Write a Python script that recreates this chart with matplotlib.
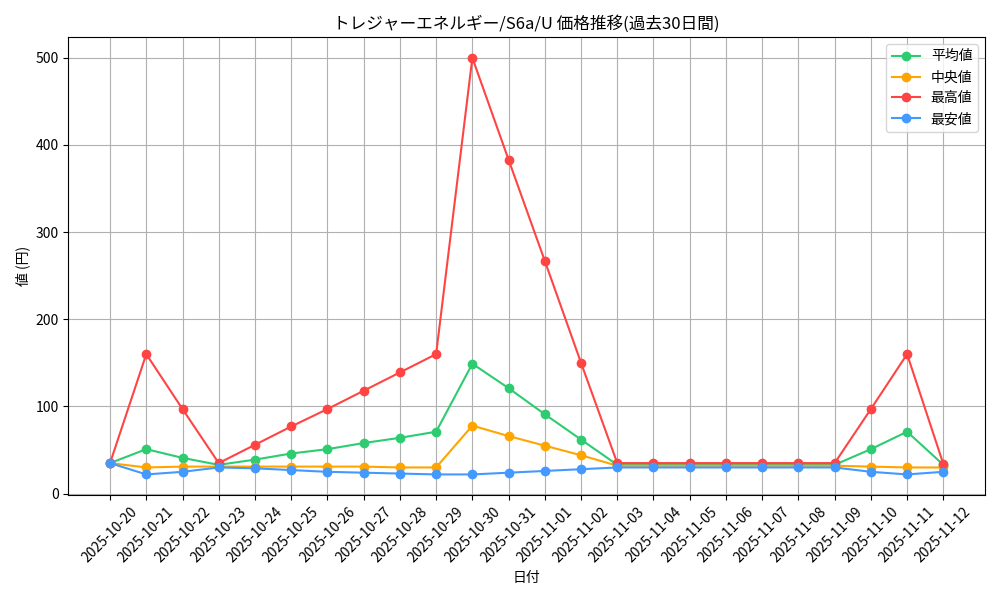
import matplotlib.pyplot as plt
import numpy as np

plt.rcParams['font.family'] = ['Noto Sans CJK JP', 'DejaVu Sans']

dates = ['2025-10-20', '2025-10-21', '2025-10-22', '2025-10-23', '2025-10-24',
         '2025-10-25', '2025-10-26', '2025-10-27', '2025-10-28', '2025-10-29',
         '2025-10-30', '2025-10-31', '2025-11-01', '2025-11-02', '2025-11-03',
         '2025-11-04', '2025-11-05', '2025-11-06', '2025-11-07', '2025-11-08',
         '2025-11-09', '2025-11-10', '2025-11-11', '2025-11-12']

avg_price = [35, 51, 41, 33, 39, 46, 51, 58, 64, 71, 149, 121, 91, 62,
             33, 33, 33, 33, 33, 33, 33, 51, 71, 33]
median_price = [35, 30, 31, 31, 31, 31, 31, 31, 30, 30, 78, 66, 55, 44,
                32, 32, 32, 32, 32, 32, 32, 31, 30, 30]
max_price = [35, 160, 97, 35, 56, 77, 97, 118, 139, 160, 500, 383, 267, 150,
             35, 35, 35, 35, 35, 35, 35, 97, 160, 34]
min_price = [35, 22, 25, 30, 29, 27, 25, 24, 23, 22, 22, 24, 26, 28,
             30, 30, 30, 30, 30, 30, 30, 25, 22, 25]

x = np.arange(len(dates))
fig, ax = plt.subplots(figsize=(10, 6), dpi=100)
ax.plot(x, avg_price, marker='o', color='#2ecc71', label='平均値')
ax.plot(x, median_price, marker='o', color='#ffa500', label='中央値')
ax.plot(x, max_price, marker='o', color='#ff4444', label='最高値')
ax.plot(x, min_price, marker='o', color='#4499ff', label='最安値')

ax.set_xticks(x)
ax.set_xticklabels(dates, rotation=45)
ax.set_xlabel('日付')
ax.set_ylabel('値 (円)')
ax.set_title('トレジャーエネルギー/S6a/U 価格推移(過去30日間)')
ax.grid(True)
ax.legend(loc='upper right')
plt.tight_layout()
plt.savefig('out.png')
